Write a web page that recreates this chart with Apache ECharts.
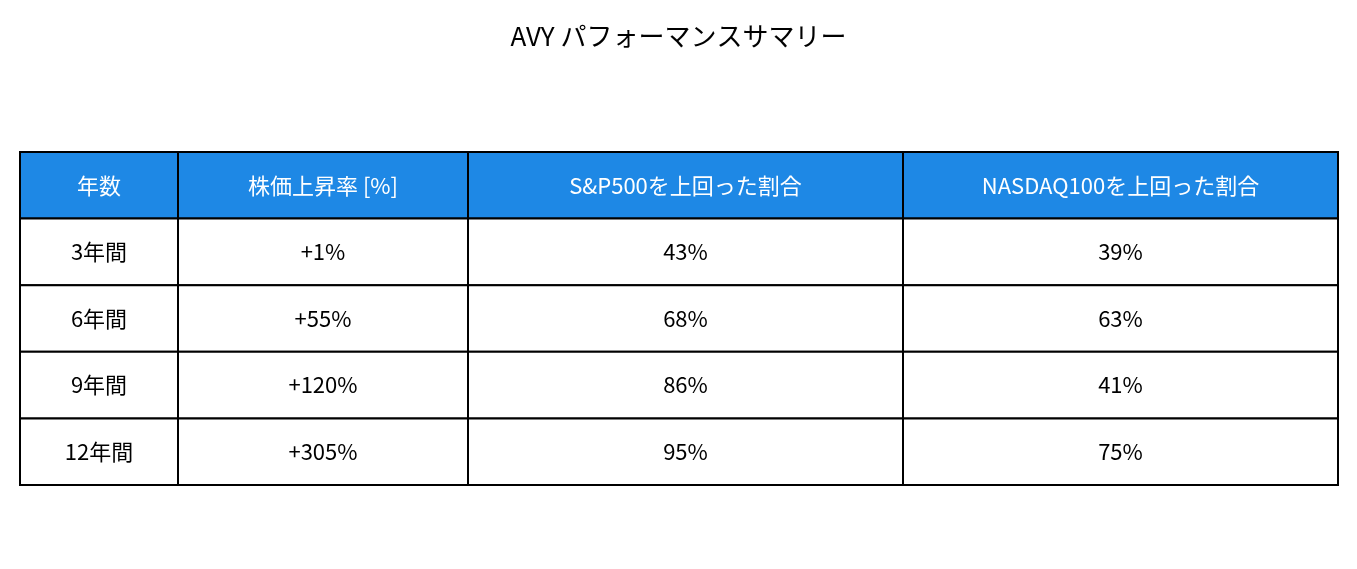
<!DOCTYPE html>
<html lang="ja" style="height: 100%">
<head>
  <meta charset="utf-8" />
  <title>AVY パフォーマンスサマリー</title>
</head>
<body style="height: 100%; margin: 0; background: #fff">
  <div id="container" style="height: 100%"></div>
  <script src="https://cdn.jsdelivr.net/npm/echarts@6/dist/echarts.min.js"></script>
  <script>
    // 表のデータ
    const headers = ['年数', '株価上昇率 [%]', 'S&P500を上回った割合', 'NASDAQ100を上回った割合'];
    const periods = ['3年間', '6年間', '9年間', '12年間'];
    const priceGrowth = ['+1%', '+55%', '+120%', '+305%'];
    const beatSP500 = ['43%', '68%', '86%', '95%'];
    const beatNasdaq = ['39%', '63%', '41%', '75%'];

    // 列の境界と行の高さ
    const colEdges = [20, 178, 468, 903, 1338];
    const tableTop = 152;
    const rowH = 66.6;
    const font = '"Noto Sans CJK JP", sans-serif';

    const rows = [headers];
    for (let i = 0; i < periods.length; i++) {
      rows.push([periods[i], priceGrowth[i], beatSP500[i], beatNasdaq[i]]);
    }

    const elements = [];
    rows.forEach(function (row, r) {
      row.forEach(function (txt, c) {
        const x = colEdges[c], w = colEdges[c + 1] - colEdges[c];
        const y = tableTop + r * rowH;
        elements.push({
          type: 'rect',
          shape: { x: x, y: y, width: w, height: rowH },
          style: { fill: r === 0 ? '#1e88e5' : '#fff', stroke: '#000', lineWidth: 2 }
        });
        elements.push({
          type: 'text',
          x: x + w / 2, y: y + rowH / 2,
          style: {
            text: txt, fill: r === 0 ? '#fff' : '#000',
            font: '22px ' + font, align: 'center', verticalAlign: 'middle'
          }
        });
      });
    });

    var myChart = echarts.init(document.getElementById('container'));
    myChart.setOption({
      title: {
        text: 'AVY パフォーマンスサマリー',
        left: 'center',
        top: 18,
        textStyle: { fontFamily: font, fontSize: 26, fontWeight: 'normal', color: '#000' }
      },
      graphic: elements
    });
    window.onresize = function () { myChart.resize(); };
  </script>
</body>
</html>
